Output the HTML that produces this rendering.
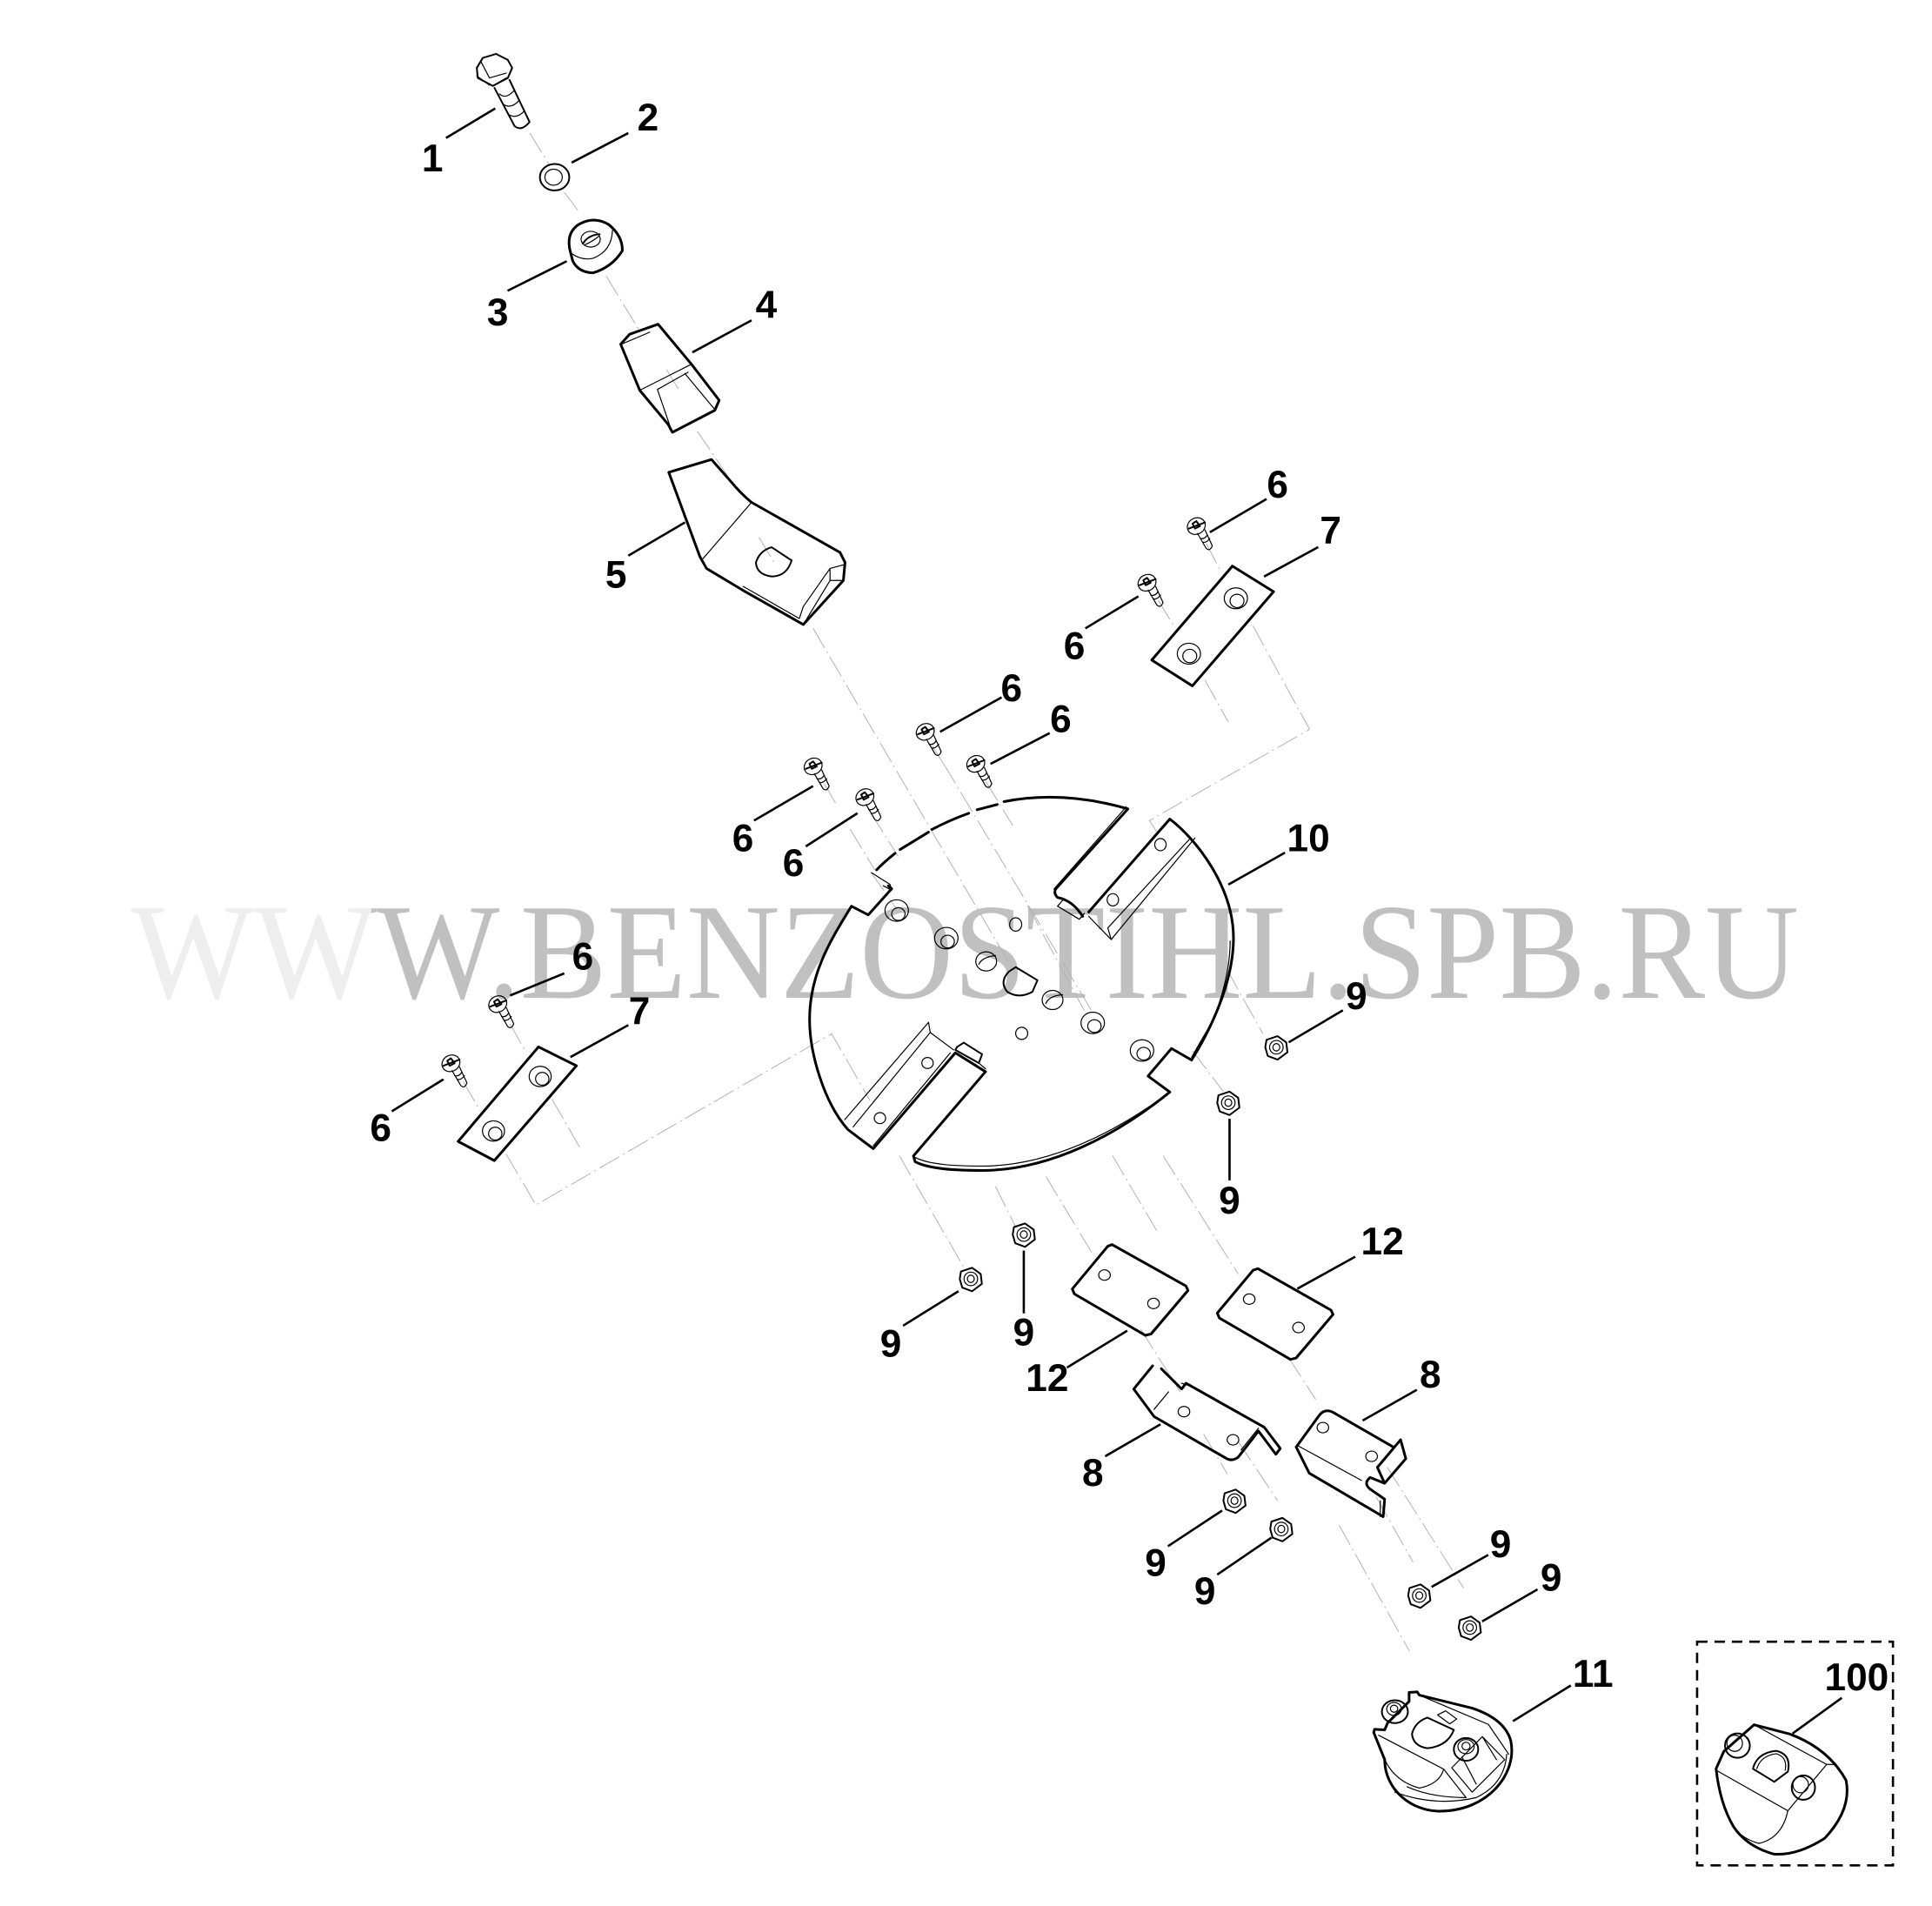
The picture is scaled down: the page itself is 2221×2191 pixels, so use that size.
<!DOCTYPE html>
<html><head><meta charset="utf-8"><style>
html,body{margin:0;padding:0;background:#fff}
svg{display:block}
svg *{vector-effect:non-scaling-stroke}
.p path,.p polygon,.p ellipse,.p line,.p polyline{fill:none;stroke:#000;stroke-width:1.2;stroke-linejoin:round;stroke-linecap:round}
.p .t{stroke-width:3}
.p .m{stroke-width:2}
.ax{fill:none;stroke:#b2b2b2;stroke-width:1;stroke-dasharray:26 5 2 5}
.ld{stroke:#000;stroke-width:2.6;fill:none}
.lb{font-family:"Liberation Sans",sans-serif;font-weight:bold;font-size:31.2px;text-anchor:middle;fill:#000}
</style></head><body>
<svg xmlns="http://www.w3.org/2000/svg" width="2221" height="2191" viewBox="0 0 2221 2191">
<defs>
<linearGradient id="wm" gradientUnits="userSpaceOnUse" x1="0" y1="0" x2="2221" y2="0">
<stop offset=".1923" stop-color="#eeeeee"/><stop offset=".1923" stop-color="#c0c0c0"/></linearGradient>
<g id="screw" class="p">
<ellipse cx="0" cy="0" rx="7.5" ry="6.5" transform="rotate(-30)"/>
<path class="m" d="M-6,2 L7,-3 M-3,-2 L0,-4 L3,0 L-1,2 Z"/>
<path d="M1,6 L8,18 Q11,21 13,16 L7,3 M3,10 Q7,11 9,7 M5,13 Q8,14 11,10"/>
</g>
<g id="nut" class="p">
<polygon class="m" points="-8,-7 1,-10 8,-5 9,3 1,9 -7,6 -9,-1"/>
<ellipse cx="0" cy="-1" rx="5.5" ry="5.5"/>
<ellipse cx="0" cy="-1" rx="2.8" ry="3"/>
</g>
</defs>
<rect width="2221" height="2191" fill="#fff"/>
<text x="151" y="1147" font-family="'Liberation Serif',serif" font-size="157" fill="url(#wm)" textLength="1917" lengthAdjust="spacingAndGlyphs">WWW.BENZOSTIHL.SPB.RU</text>

<g transform="scale(1.4163)">
<!-- axes -->
<g class="ax">
<path d="M430,108 L446,134 M458,156 L470,172 M492,224 L520,270 M541,300 L552,318 M566,350 L600,400 M616,436 L628,456 M660,510 L824,790"/>
<path d="M669,636 L680,655 M690,673 L710,706 M707,660 L729,695 M707,708 L728,738 M766,620 L887,822 M757,606 L766,620 M800,634 L822,670 M834,735 L880,820"/>
<path d="M979,441 L990,462 M940,487 L952,507 M978,552 L997,586 M1017,508 L1063,592 L933,666 L940,677"/>
<path d="M996,787 L1025,839 M968,853 L993,886"/>
<path d="M414,831 L427,854 M376,878 L390,902 M448,892 L471,932 M411,937 L435,978 L675,839 L706,893"/>
<path d="M730,938 L782,1028 M808,963 L824,995 M849,955 L887,1018 M903,938 L939,999 M944,938 L1005,1034 M926,1079 L958,1130 M977,1164 L996,1196 M1005,1170 L1037,1218 M1046,1102 L1068,1136 M1117,1215 L1147,1268 M1126,1191 L1188,1289 M1087,1238 L1144,1340"/>
</g>

<!-- bolt, washer, 4, 5 -->
<g class="p" transform="translate(316,21) scale(.271,.325)">
<polygon class="m" points="262,105 280,80 320,70 355,85 368,105 355,130 310,150 265,130"/>
<path d="M275,90 L300,130 L350,118 M262,125 L300,148 M310,150 L350,130"/>
<path class="m" d="M315,155 L375,250 Q395,265 420,240 L360,135"/>
<path d="M330,170 Q350,185 375,160 M340,195 Q365,210 390,185 M355,220 Q380,235 405,212"/>
<ellipse cx="495" cy="378" rx="44" ry="33" class="m"/>
<ellipse cx="492" cy="378" rx="26" ry="20"/>
<polygon class="t" points="693,795 720,770 805,745 905,845 988,935 975,960 848,1015 835,995 750,910"/>
<path d="M750,910 L905,845 M803,908 L895,865 M803,908 L845,1010 M885,868 L975,958 M695,795 L780,765"/>
<path class="t" d="M837,1115 L965,1083 L1020,1135 Q1055,1170 1085,1190 L1350,1315 L1365,1340 L1360,1385 L1240,1495 L1060,1410 L950,1355 L930,1325 Z"/>
<path d="M1085,1190 L940,1330 M1060,1400 L1228,1480 M1240,1450 L1320,1355 L1365,1345 M1240,1450 L1228,1480 M1320,1355 L1320,1385 L1360,1385 M1320,1385 L1240,1495"/>
<path class="m" d="M1145,1302 L1205,1335 Q1190,1375 1145,1375 Q1100,1370 1098,1340 Q1110,1310 1145,1302 Z"/>
</g>

<!-- bushing 3 -->
<g class="p" transform="translate(451.9,155.3) scale(.2354)">
<path class="t" d="M48,212 Q30,150 70,118 Q125,82 180,115 Q228,155 226,205 Q190,262 125,281 Q75,280 55,240 Z"/>
<path d="M48,212 Q85,240 125,231 Q190,205 192,135"/>
<ellipse cx="117" cy="165" rx="33" ry="27"/>
<path class="m" d="M90,180 Q110,150 148,148"/><path d="M95,185 Q120,175 145,155"/>
</g>

<!-- disc 10 -->
<g class="p" transform="translate(634,620) scale(.272,.2357)">
<path class="t" d="M285,365 Q310,335 340,308 M355,295 L440,235 M450,226 Q500,195 560,170 M585,158 L645,140 M665,130 Q840,90 1035,155 L820,430 Q812,445 825,460 Q870,470 900,525"/>
<path d="M1030,148 L815,430 Q815,445 825,462 M825,490 L840,470 M825,490 L890,535 L905,515"/>
<path class="t" d="M1160,190 L918,510 M1160,190 C1235,255 1350,420 1350,600 C1350,730 1300,880 1225,1020 L1165,980 L1095,1075 L1160,1130 C1000,1280 800,1400 600,1400 C520,1400 440,1395 400,1370 L395,1350 L610,1060 L520,995 L275,1325 L200,1260 C130,1170 85,1000 85,880 C85,730 140,620 210,490 L260,520 L330,430 L320,420"/>
<path d="M1235,255 L985,605 L918,525 M1222,255 L975,565 L985,605 M1160,1130 C1000,1268 800,1385 600,1385 C520,1385 440,1380 400,1355 M1340,610 Q1340,730 1290,880 L1225,1010"/>
<path d="M440,890 L190,1225 M445,925 L215,1250 M440,890 L445,925 L515,985 M505,995 L275,1315"/>
<polygon class="m" points="525,975 545,960 600,1000 590,1030 520,985"/>
<path d="M610,1050 L590,1030 M270,375 L325,415 L330,435 L305,420"/>
<ellipse cx="345" cy="505" rx="35" ry="37"/><ellipse cx="350" cy="517" rx="20" ry="22"/>
<ellipse cx="493" cy="600" rx="35" ry="37"/><ellipse cx="497" cy="612" rx="20" ry="22"/>
<ellipse cx="612" cy="680" rx="31" ry="33"/><path d="M590,690 Q600,665 640,660"/>
<ellipse cx="700" cy="553" rx="18" ry="23"/>
<path class="m" d="M700,700 L765,745 L750,785 Q710,810 675,785 Q650,750 680,715 Z"/>
<ellipse cx="810" cy="813" rx="31" ry="33"/><path d="M790,825 Q800,798 840,795"/>
<ellipse cx="930" cy="892" rx="35" ry="37"/><ellipse cx="935" cy="903" rx="20" ry="22"/>
<ellipse cx="1077" cy="987" rx="35" ry="37"/><ellipse cx="1082" cy="998" rx="20" ry="22"/>
<ellipse cx="718" cy="928" rx="18" ry="21"/>
<ellipse cx="1132" cy="278" rx="17" ry="21"/><ellipse cx="990" cy="468" rx="17" ry="21"/>
<ellipse cx="437" cy="1030" rx="17" ry="19"/><ellipse cx="295" cy="1220" rx="17" ry="19"/>
</g>

<!-- plates 7 -->
<g class="p" transform="translate(847.3,367.2) scale(.2354)">
<polygon class="t" points="650,392 792,480 512,805 372,716"/>
<ellipse cx="662" cy="503" rx="40" ry="36"/><ellipse cx="666" cy="512" rx="24" ry="23"/>
<ellipse cx="500" cy="694" rx="40" ry="36"/><ellipse cx="503" cy="702" rx="24" ry="23"/>
</g>
<g class="p" transform="translate(282.4,762.6) scale(.2354)">
<polygon class="t" points="657,370 788,435 505,762 380,696"/>
<ellipse cx="663" cy="472" rx="38" ry="35"/><ellipse cx="670" cy="480" rx="23" ry="22"/>
<ellipse cx="502" cy="660" rx="38" ry="35"/><ellipse cx="508" cy="669" rx="23" ry="22"/>
</g>

<!-- screws -->
<use href="#screw" x="971" y="427"/><use href="#screw" x="931" y="473"/>
<use href="#screw" x="751" y="594"/><use href="#screw" x="792" y="620"/>
<use href="#screw" x="660" y="622"/><use href="#screw" x="702" y="647"/>
<use href="#screw" x="404" y="815"/><use href="#screw" x="366" y="863"/>

<!-- nuts -->
<use href="#nut" x="1036" y="851"/><use href="#nut" x="997" y="896"/>
<use href="#nut" x="831" y="1003"/><use href="#nut" x="788" y="1039"/>
<use href="#nut" x="1002" y="1219"/><use href="#nut" x="1040" y="1242"/>
<use href="#nut" x="1152" y="1296"/><use href="#nut" x="1193" y="1322"/>

<!-- 12, 8 -->
<g class="p" transform="translate(847.3,988.5) scale(.2354)">
<path class="t" d="M235,92 L490,235 L497,250 L370,400 L350,405 L105,262 L98,245 L220,98 Z"/>
<path d="M370,395 L490,255"/>
<ellipse cx="209" cy="197" rx="20" ry="18"/><ellipse cx="378" cy="295" rx="20" ry="18"/>
<path class="t" d="M738,175 L990,318 L997,333 L870,483 L850,488 L605,345 L598,328 L722,180 Z"/>
<path d="M870,478 L990,338"/>
<ellipse cx="708" cy="280" rx="20" ry="18"/><ellipse cx="878" cy="378" rx="20" ry="18"/>
<path class="t" d="M375,510 L310,590 L380,685 L630,830 Q650,840 670,825 L740,735 L800,815 L815,795 L760,722 L490,570 L475,590 L405,520"/>
<path d="M380,660 L430,600 M740,725 L680,800 M475,570 L500,578"/>
<ellipse cx="483" cy="668" rx="20" ry="18"/><ellipse cx="652" cy="765" rx="20" ry="18"/>
<path class="t" d="M870,790 L950,680 Q970,655 1000,672 L1205,790 M870,790 L915,880 L1170,1030 L1175,970 L1125,935 Q1100,915 1125,895 L1175,915 L1248,830 L1230,765 L1150,860 L1175,915"/>
<path d="M875,785 L1095,905 M1160,975 L1160,1030 M1205,790 L1230,765 M1150,860 L1222,775"/>
<ellipse cx="962" cy="723" rx="20" ry="18"/><ellipse cx="1130" cy="822" rx="20" ry="18"/>
</g>

<!-- 11 -->
<g class="p" transform="translate(1053,1272) scale(.33,.22)">
<path class="t" d="M275,462 L295,460 L300,472 L430,520 Q510,560 525,640 C542,760 470,900 350,900 C280,900 215,820 215,710 L188,610 L190,598 L215,600 L222,575 L275,495 Z"/>
<path d="M300,472 L470,580 L520,690 M200,620 L360,745 M215,710 Q240,790 300,815 Q350,800 360,745 M360,745 L415,850 Q330,850 270,810 M380,740 L455,625 L510,710 L430,830 L380,740 M405,700 L440,800 M455,625 L490,710 M240,830 Q340,885 440,850 Q510,800 515,690"/>
<ellipse cx="240" cy="533" rx="32" ry="42" class="m"/><ellipse cx="238" cy="523" rx="18" ry="24"/><ellipse cx="238" cy="522" rx="9" ry="13"/>
<ellipse cx="415" cy="672" rx="30" ry="42" class="m"/><ellipse cx="415" cy="662" rx="20" ry="26"/><ellipse cx="415" cy="660" rx="10" ry="14"/>
<path class="m" d="M320,555 L385,600 Q370,660 320,668 Q285,660 282,615 Q290,570 320,555 Z"/>
<path d="M345,545 L365,530 L392,560 L375,578 Z"/>
</g>
<!-- 100 -->
<g class="p" transform="translate(1059,1257) scale(.315,.235)">
<path class="t" d="M1158,608 L1250,640 Q1350,690 1395,800 Q1410,900 1340,1000 Q1270,1060 1210,1055 Q1140,1030 1105,960 Q1070,880 1060,760 L1080,700 Z"/>
<path d="M1060,765 L1245,905 Q1230,1000 1170,1018 Q1125,1000 1105,960 M1158,608 L1345,745 L1245,905 M1345,745 L1370,745"/>
<ellipse cx="1115" cy="680" rx="32" ry="42" class="m"/><ellipse cx="1108" cy="672" rx="20" ry="28"/>
<ellipse cx="1285" cy="825" rx="30" ry="42" class="m"/><ellipse cx="1278" cy="815" rx="20" ry="28"/>
<path class="m" d="M1155,760 Q1165,705 1215,698 Q1255,710 1245,770 L1210,805 Z"/>
<path d="M1165,760 Q1175,715 1215,708 Q1245,720 1238,765"/>
</g>

<rect x="1377.5" y="1332.5" width="159" height="181.5" fill="none" stroke="#000" stroke-width="2.6" stroke-dasharray="12 8"/>

<!-- leaders -->
<g class="ld">
<path d="M362,112 L402,88 M464,132 L510,108 M412,236 L460,212 M562,286 L610,260 M510,451 L556,424"/>
<path d="M982,432 L1028,405 M1026,468 L1070,444 M881,510 L924,484 M763,594 L813,566 M804,620 L852,595 M612,666 L660,638 M654,687 L696,660 M997,718 L1043,692 M414,808 L458,790 M463,858 L510,832 M318,902 L360,876"/>
<path d="M1046,846 L1090,820 M998,908 L998,958 M831,1015 L831,1066 M733,1076 L778,1048 M1053,1046 L1100,1020 M866,1110 L915,1080 M1106,1153 L1150,1128 M897,1182 L942,1156 M948,1255 L992,1226 M988,1278 L1032,1248 M1162,1288 L1208,1262 M1203,1316 L1248,1290 M1228,1397 L1275,1368 M1455,1407 L1495,1378"/>
</g>

<!-- labels -->
<g class="lb">
<text x="351" y="139">1</text><text x="526" y="106">2</text><text x="404" y="264">3</text><text x="622" y="258">4</text><text x="500" y="477">5</text>
<text x="1037" y="404">6</text><text x="1080" y="441">7</text><text x="872" y="535">6</text><text x="821" y="569">6</text><text x="861" y="594">6</text>
<text x="603" y="691">6</text><text x="644" y="711">6</text><text x="1062" y="691">10</text><text x="473" y="787">6</text><text x="519" y="831">7</text><text x="309" y="926">6</text>
<text x="1101" y="819">9</text><text x="998" y="985">9</text><text x="831" y="1092">9</text><text x="723" y="1101">9</text>
<text x="1122" y="1018">12</text><text x="850" y="1129">12</text><text x="1161" y="1126">8</text><text x="887" y="1206">8</text>
<text x="938" y="1279">9</text><text x="978" y="1302">9</text><text x="1218" y="1264">9</text><text x="1259" y="1291">9</text>
<text x="1293" y="1369">11</text><text x="1507" y="1372">100</text>
</g>
</g>
</svg>
</body></html>
